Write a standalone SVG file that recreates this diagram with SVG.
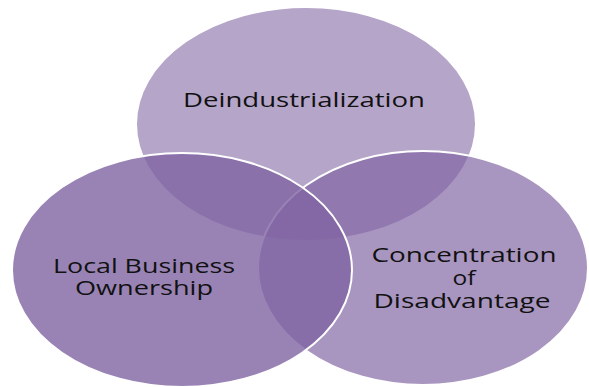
<svg xmlns="http://www.w3.org/2000/svg" width="589" height="387" viewBox="0 0 589 387">
  <style>
    .set { fill: #8064A2; stroke: #FFFFFF; stroke-width: 2; }
    .label { font-family: "Open Sans", "Liberation Sans", sans-serif; font-size: 20px; fill: #111111; text-anchor: middle; }
  </style>
  <rect width="589" height="387" fill="#FFFFFF"/>
  <g id="deindustrialization">
    <ellipse class="set" cx="306" cy="124" rx="170" ry="117" fill-opacity="0.58"/>
    <text class="label" x="304" y="107" textLength="242" lengthAdjust="spacingAndGlyphs">Deindustrialization</text>
  </g>
  <g id="concentration-of-disadvantage">
    <ellipse class="set" cx="423" cy="268" rx="165" ry="117" fill-opacity="0.68"/>
  </g>
  <g id="local-business-ownership">
    <ellipse class="set" cx="182" cy="270" rx="170" ry="117" fill-opacity="0.8"/>
  </g>
  <g id="labels">
    <text class="label" x="144" y="273" textLength="182" lengthAdjust="spacingAndGlyphs">Local Business</text>
    <text class="label" x="144" y="295" textLength="138" lengthAdjust="spacingAndGlyphs">Ownership</text>
    <text class="label" x="464" y="262" textLength="185" lengthAdjust="spacingAndGlyphs">Concentration</text>
    <text class="label" x="464" y="285" textLength="23" lengthAdjust="spacingAndGlyphs">of</text>
    <text class="label" x="462" y="308" textLength="177" lengthAdjust="spacingAndGlyphs">Disadvantage</text>
  </g>
</svg>
